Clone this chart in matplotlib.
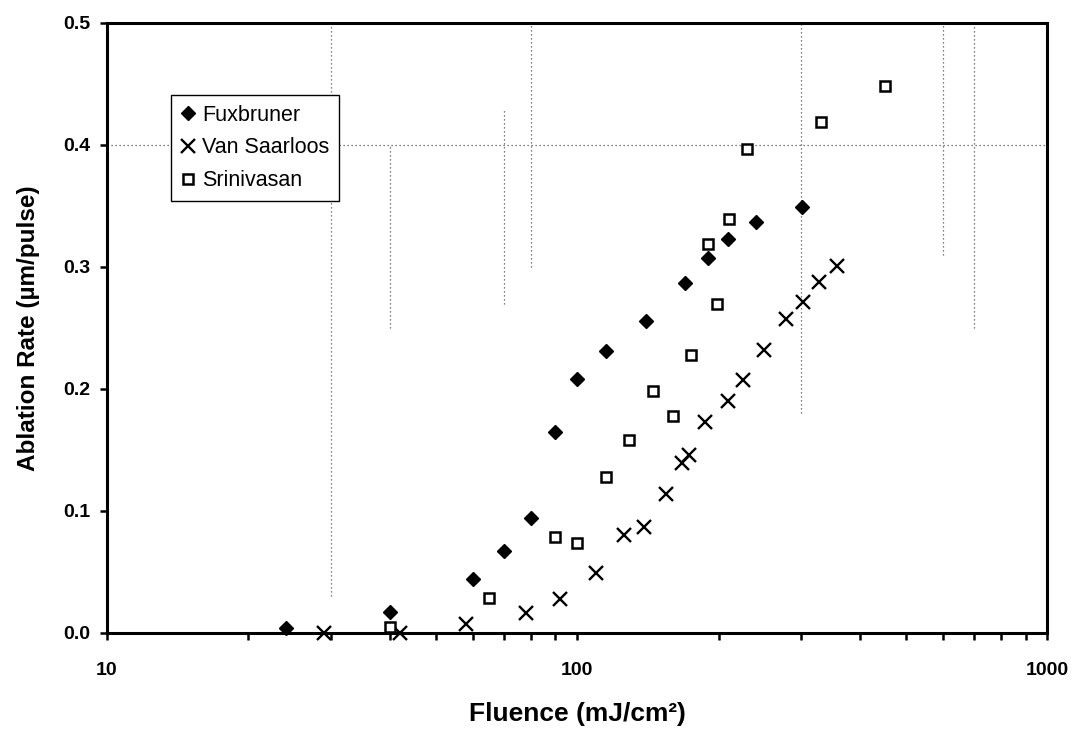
import matplotlib
matplotlib.use("Agg")
import matplotlib.pyplot as plt
from matplotlib.ticker import FixedLocator, LogLocator, NullFormatter, FormatStrFormatter

plt.rcParams['font.family'] = ['Liberation Sans', 'DejaVu Sans']

# Ablation rate vs fluence, three data sets
fux_x = [24, 40, 60, 70, 80, 90, 100, 115, 140, 170, 190, 210, 240, 301]
fux_y = [0.004, 0.017, 0.044, 0.067, 0.094, 0.165, 0.208, 0.231, 0.256, 0.287, 0.307, 0.323, 0.337, 0.349]

vs_x = [29, 42, 58, 78, 92, 110, 126, 139, 155, 167, 173, 187, 210, 225, 250, 278, 303, 328, 357]
vs_y = [0.0, 0.0, 0.007, 0.016, 0.028, 0.049, 0.080, 0.087, 0.114, 0.139, 0.146, 0.173, 0.190,
        0.207, 0.232, 0.257, 0.271, 0.288, 0.301]

sri_x = [40, 65, 90, 100, 115, 129, 145, 160, 175, 190, 199, 211, 230, 330, 453]
sri_y = [0.005, 0.029, 0.079, 0.074, 0.128, 0.158, 0.198, 0.178, 0.228, 0.319, 0.270, 0.339,
         0.397, 0.419, 0.448]

labels = ["Fuxbruner", "Van Saarloos", "Srinivasan"]
y_ticks = [0.0, 0.1, 0.2, 0.3, 0.4, 0.5]
x_ticks = [10, 100, 1000]

# faint dotted guide lines: (x, y from, y to) and a horizontal one
vguides = [(30, 0.03, 0.5), (40, 0.25, 0.40), (70, 0.27, 0.43), (80, 0.30, 0.5),
           (300, 0.18, 0.5), (600, 0.31, 0.5), (700, 0.25, 0.5)]
hguide = 0.4

fig = plt.figure(figsize=(10.75, 7.36), dpi=100)
ax = fig.add_axes([0.0995, 0.140, 0.8745, 0.8288])

ax.set_xscale('log')
ax.set_xlim(10, 1000)
ax.set_ylim(0, 0.5)

dot = (0, (1, 2.2))
for xv, y0, y1 in vguides:
    ax.plot([xv, xv], [y0, y1], color='#555555', lw=0.9, ls=dot, zorder=1)
ax.axhline(hguide, color='#555555', lw=0.9, ls=dot, zorder=1)

ax.plot(fux_x, fux_y, ls='none', marker='D', ms=6.8, color='black', mec='black',
        label=labels[0], clip_on=False, zorder=3)
ax.plot(vs_x, vs_y, ls='none', marker='x', ms=10.5, mew=1.7, color='black',
        label=labels[1], clip_on=False, zorder=3)
ax.plot(sri_x, sri_y, ls='none', marker='s', ms=7.2, mew=1.8, mfc='white', mec='black',
        color='black', label=labels[2], clip_on=False, zorder=3)

for side in ['left', 'bottom', 'right', 'top']:
    ax.spines[side].set_linewidth(2.2)
    ax.spines[side].set_color('black')

ax.xaxis.set_major_locator(FixedLocator(x_ticks))
ax.xaxis.set_major_formatter(FormatStrFormatter('%d'))
ax.xaxis.set_minor_locator(LogLocator(base=10, subs=range(2, 10)))
ax.xaxis.set_minor_formatter(NullFormatter())
ax.yaxis.set_major_locator(FixedLocator(y_ticks))
ax.yaxis.set_major_formatter(FormatStrFormatter('%.1f'))

ax.tick_params(axis='x', which='both', direction='out', length=5, width=1.8, pad=16,
               labelsize=14, top=False)
ax.tick_params(axis='y', which='major', direction='out', length=5, width=1.8, pad=7,
               labelsize=14, right=False)
for lab in ax.get_xticklabels() + ax.get_yticklabels():
    lab.set_fontweight('bold')

ax.set_xlabel('Fluence (mJ/cm²)', fontsize=19, fontweight='bold')
ax.set_ylabel('Ablation Rate (µm/pulse)', fontsize=17.5, fontweight='bold')
ax.xaxis.set_label_coords(0.5, -0.114)
ax.yaxis.set_label_coords(-0.071, 0.5)

leg = ax.legend(loc='upper left', bbox_to_anchor=(0.068, 0.882), fontsize=15.5,
                frameon=True, fancybox=False, edgecolor='black', framealpha=1,
                handlelength=0.7, handletextpad=0.3, labelspacing=0.55,
                borderpad=0.45, borderaxespad=0)
leg.get_frame().set_linewidth(1.0)

fig.savefig('out.png', dpi=100, facecolor='white')
